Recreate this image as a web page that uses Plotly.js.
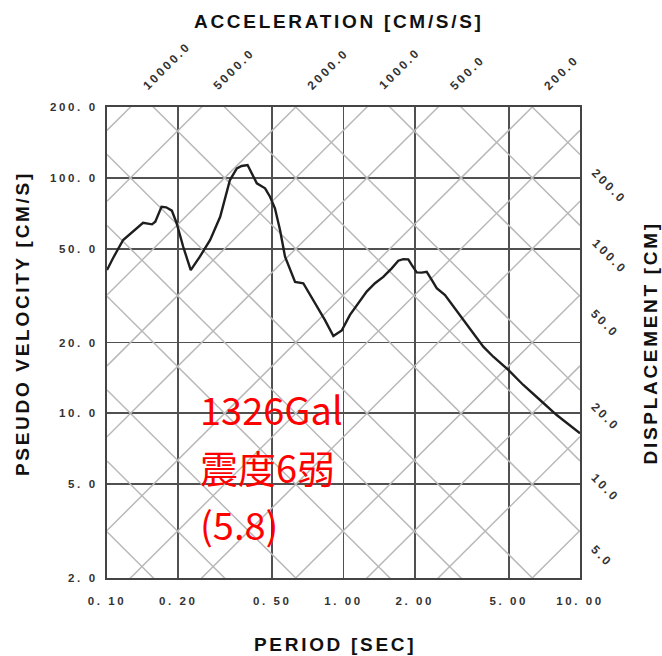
<!DOCTYPE html>
<html><head><meta charset="utf-8">
<script src="https://cdn.plot.ly/plotly-3.0.1.min.js"></script>
<style>html,body{margin:0;padding:0;background:#fff}</style>
</head><body>
<div id="chart" style="width:662px;height:656px"></div>
<script>
// ---- data ----
const periods = [0.100,0.106,0.117,0.129,0.142,0.155,0.160,0.170,0.178,0.188,0.197,0.210,0.226,0.247,0.273,0.301,0.316,0.331,0.354,0.371,0.393,0.409,0.430,0.466,0.489,0.513,0.539,0.566,0.594,0.624,0.676,0.758,0.835,0.906,0.983,1.065,1.155,1.253,1.359,1.473,1.599,1.705,1.790,1.879,1.943,2.040,2.141,2.248,2.361,2.478,2.687,2.913,3.211,3.538,3.900,4.299,4.975,5.758,6.776,7.970,10.00];
const psv = [40.6,45.6,54.5,59.1,64.5,63.5,65.2,75.4,75.0,72.6,64.2,51.0,40.6,46.3,54.5,68.4,83.2,97.9,109.8,112.3,113.4,104.6,94.8,90.3,83.2,74.3,60.1,46.3,40.6,36.2,35.7,29.3,24.9,21.3,22.5,26.2,29.3,32.9,35.7,38.0,41.3,44.5,45.2,45.1,42.7,39.7,39.6,39.9,36.9,34.0,31.8,28.6,24.9,21.9,19.2,17.4,15.3,13.2,11.4,9.84,8.23];

const periodTicks = [0.1,0.2,0.5,1,2,5,10];
const periodTickText = ['0. 10','0. 20','0. 50','1. 00','2. 00','5. 00','10. 00'];
const velTicks = [2,5,10,20,50,100,200];
const velTickText = ['2. 0','5. 0','10. 0','20. 0','50. 0','100. 0','200. 0'];

const accelGrid = [2,5,10,20,50,100,200,500,1000,2000,5000,10000];
const accelLabeled = [10000,5000,2000,1000,500,200];
const accelLabelText = ['10000.0','5000.0','2000.0','1000.0','500.0','200.0'];
const dispGrid = [0.05,0.1,0.2,0.5,1,2,5,10,20,50,100,200];
const dispLabeled = [200,100,50,20,10,5];
const dispLabelText = ['200.0','100.0','50.0','20.0','10.0','5.0'];

const noteLines = ['1326Gal', '震度6弱', '(5.8)'];

// ---- build ----
const TWO_PI = 2*Math.PI;
const tEnds = [0.1, 10];
const vMin = 2, vMax = 200, tMin = 0.1, tMax = 10;
const traces = [];
accelGrid.forEach(a => traces.push({
  x: tEnds, y: tEnds.map(t => a*t/TWO_PI), type:'scatter', mode:'lines',
  line:{color:'#b9b9b9', width:1.5}, hoverinfo:'skip', showlegend:false
}));
dispGrid.forEach(d => traces.push({
  x: tEnds, y: tEnds.map(t => TWO_PI*d/t), type:'scatter', mode:'lines',
  line:{color:'#b9b9b9', width:1.5}, hoverinfo:'skip', showlegend:false
}));
traces.push({x: periods, y: psv, type:'scatter', mode:'lines',
  line:{color:'#1e1e1e', width:2.4}, showlegend:false});

const sp = s => '<span style="letter-spacing:2.6px">' + s + '</span>';
const tickFont = {family:'Liberation Sans, Arial, sans-serif', size:11.5, color:'#333', weight:'bold'};
const diagFont = {family:'Liberation Sans, Arial, sans-serif', size:12, color:'#333', weight:'bold'};
const titleFont = {family:'Liberation Sans, Arial, sans-serif', size:19, color:'#111', weight:'bold'};
const ts = s => '<span style="letter-spacing:2.7px">' + s + '</span>';

const annotations = [];
accelLabeled.forEach((a, i) => {
  const txt = accelLabelText[i];
  const off = 11 + txt.length*3.6;
  annotations.push({
    xref:'x', yref:'y', x: Math.log10(TWO_PI*vMax/a), y: Math.log10(vMax) - 1e-6,
    text: sp(txt), textangle:-45, showarrow:true, arrowcolor:'rgba(0,0,0,0)', arrowwidth:0.1,
    ax: off, ay: -(off + 5), font: diagFont
  });
});
dispLabeled.forEach((d, i) => {
  const txt = dispLabelText[i];
  const off = 11 + txt.length*3.6;
  annotations.push({
    xref:'x', yref:'y', x: Math.log10(tMax) - 1e-6, y: Math.log10(TWO_PI*d/tMax),
    text: sp(txt), textangle:45, showarrow:true, arrowcolor:'rgba(0,0,0,0)', arrowwidth:0.1,
    ax: off, ay: off + 2, font: diagFont
  });
});
annotations.push({xref:'paper', yref:'paper', x:0.4905, y:1.1805, xanchor:'center', yanchor:'middle',
  text: ts('ACCELERATION [CM/S/S]'), showarrow:false, font:titleFont});
annotations.push({xref:'paper', yref:'paper', x:0.482, y:-0.142, xanchor:'center', yanchor:'middle',
  text: ts('PERIOD [SEC]'), showarrow:false, font:titleFont});
annotations.push({xref:'paper', yref:'paper', x:-0.18, y:0.541, xanchor:'center', yanchor:'middle',
  text: ts('PSEUDO VELOCITY [CM/S]'), textangle:-90, showarrow:false, font:titleFont});
annotations.push({xref:'paper', yref:'paper', x:1.15, y:0.50, xanchor:'center', yanchor:'middle',
  text: ts('DISPLACEMENT [CM]'), textangle:-90, showarrow:false, font:titleFont});
const noteY = [0.360, 0.237, 0.116];
noteLines.forEach((s, i) => annotations.push({xref:'paper', yref:'paper', x:0.192, y:noteY[i],
  xanchor:'left', yanchor:'middle', align:'left', text: s, showarrow:false,
  font:{family:'Noto Sans CJK JP, sans-serif', size:38, color:'#ff0000'}}));

const layout = {
  width:662, height:656,
  margin:{l:107, r:82, t:107, b:78},
  paper_bgcolor:'#fff', plot_bgcolor:'#fff',
  showlegend:false,
  xaxis:{type:'log', range:[Math.log10(tMin), Math.log10(tMax)],
    tickvals: periodTicks, ticktext: periodTickText.map(sp), ticks:'', ticklabelstandoff:11,
    showgrid:true, gridcolor:'#505050', gridwidth:1.8, zeroline:false,
    showline:true, mirror:true, linecolor:'#444', linewidth:2, tickfont:tickFont, fixedrange:true},
  yaxis:{type:'log', range:[Math.log10(vMin), Math.log10(vMax)],
    tickvals: velTicks, ticktext: velTickText.map(sp), ticks:'', ticklabelstandoff:5,
    showgrid:true, gridcolor:'#505050', gridwidth:1.8, zeroline:false,
    showline:true, mirror:true, linecolor:'#444', linewidth:2, tickfont:tickFont, fixedrange:true},
  annotations: annotations
};
Plotly.newPlot('chart', traces, layout, {displayModeBar:false, staticPlot:true});
</script>
</body></html>
